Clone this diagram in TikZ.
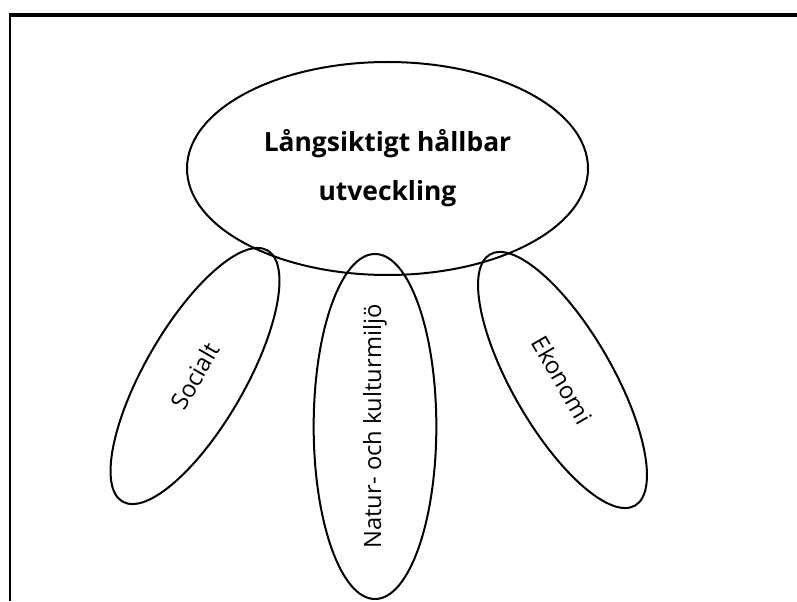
\documentclass[tikz,border=0pt]{standalone}
\usepackage{fontspec}
\setmainfont{Open Sans}
\usetikzlibrary{shapes.geometric}
\tikzstyle{bubble} = [ellipse, draw, line width=1.5pt, inner sep=0pt, font=\fontsize{17.8}{20}\selectfont]
\tikzstyle{frame} = [line width=2pt]

\begin{document}
\begin{tikzpicture}[x=0.75pt, y=0.75pt]
        \useasboundingbox (0,0) rectangle (797,601);

        \draw[frame] (10,0) -- (10,586.5);
        \draw[frame, line width=2.4pt] (9,586) -- (797,586);

        \node at (387.5,432.5) [bubble, minimum width=300.75pt, minimum height=159.75pt, align=center, font=\bfseries\fontsize{19.8}{36.75}\selectfont](goal) {Långsiktigt hållbar\\utveckling};

        \node at (195,225) [bubble, rotate=60, minimum width=217.5pt, minimum height=75pt](social) {Socialt};
        \node at (375,174.5) [bubble, rotate=90, minimum width=227pt, minimum height=92pt](miljo) {Natur- och kulturmiljö};
        \node at (562.5,221) [bubble, rotate=-60, minimum width=217.5pt, minimum height=75pt](ekonomi) {Ekonomi};

    \end{tikzpicture}
\end{document}
